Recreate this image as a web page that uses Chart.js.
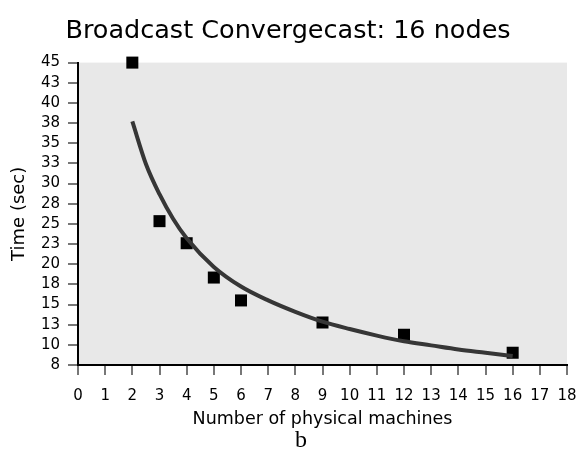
<!DOCTYPE html>
<html>
<head>
<meta charset="utf-8">
<script src="https://cdn.jsdelivr.net/npm/chart.js@4/dist/chart.umd.min.js"></script>
<style>
  html, body { margin: 0; padding: 0; background: #fff; }
  #wrap { width: 586px; height: 466px; }
</style>
</head>
<body>
<div id="wrap"><canvas id="chart"></canvas></div>
<script>
// measured run times
const machines = [2, 3, 4, 5, 6, 9, 12, 16];
const times = [45, 25.6, 22.9, 18.7, 15.9, 13.2, 11.7, 9.5];

// fitted trend line
const fitX = [2, 2.5, 3, 3.5, 4, 5, 6, 7, 8, 9, 10, 11, 12, 13, 14, 15, 16];
const fitY = [37.8, 32.6, 28.9, 25.9, 23.5, 20.0, 17.6, 15.9, 14.5, 13.3, 12.4, 11.6, 10.9, 10.4, 9.9, 9.5, 9.1];

const yTickLabels = ['8', '10', '13', '15', '18', '20', '23', '25', '28', '30', '33', '35', '38', '40', '43', '45'];
const yMin = 8, yMax = 45;

const FONT = 'DejaVu Sans';

const plotBg = {
  id: 'plotBg',
  beforeDraw(chart) {
    const { ctx, chartArea: a } = chart;
    ctx.save();
    ctx.fillStyle = '#e8e8e8';
    ctx.fillRect(a.left, a.top, a.right - a.left, a.bottom - a.top);
    ctx.restore();
  }
};

const panelLabel = {
  id: 'panelLabel',
  afterDraw(chart) {
    const { ctx } = chart;
    ctx.save();
    ctx.fillStyle = '#000';
    ctx.font = '24px "Liberation Serif"';
    ctx.textAlign = 'center';
    ctx.textBaseline = 'alphabetic';
    ctx.fillText('b', 301, 447);
    ctx.restore();
  }
};

new Chart(document.getElementById('chart'), {
  type: 'scatter',
  data: {
    datasets: [
      {
        type: 'line',
        data: fitX.map((x, i) => ({ x, y: fitY[i] })),
        borderColor: '#363636',
        borderWidth: 4,
        pointRadius: 0,
        cubicInterpolationMode: 'monotone',
        fill: false,
        order: 0
      },
      {
        data: machines.map((x, i) => ({ x, y: times[i] })),
        pointStyle: 'rect',
        pointRadius: 8.5,
        backgroundColor: '#000',
        borderColor: '#000',
        borderWidth: 0,
        clip: false,
        order: 1
      }
    ]
  },
  options: {
    responsive: true,
    maintainAspectRatio: false,
    animation: false,
    layout: { padding: { left: 0, right: 10, top: 0, bottom: 29 } },
    plugins: {
      legend: { display: false },
      tooltip: { enabled: false },
      title: {
        display: true,
        text: 'Broadcast Convergecast: 16 nodes',
        color: '#000',
        font: { family: FONT, size: 25.5, weight: 'normal' },
        padding: { top: 16, bottom: 16 }
      }
    },
    scales: {
      x: {
        type: 'linear',
        min: 0,
        max: 18,
        ticks: { stepSize: 1, autoSkip: false, color: '#000', font: { family: FONT, size: 15 }, padding: 12, maxRotation: 0, minRotation: 0 },
        grid: { drawOnChartArea: false, drawTicks: true, tickLength: 10, color: '#777', lineWidth: 2 },
        border: { display: true, color: '#000', width: 2 },
        title: { display: true, text: 'Number of physical machines', color: '#000', font: { family: FONT, size: 17.5 }, padding: { top: 0, bottom: 7 } },
        afterFit(scale) {
          scale.height = 72;
          scale.paddingRight = 19;
        }
      },
      y: {
        type: 'linear',
        min: yMin,
        max: yMax,
        afterBuildTicks(scale) {
          const n = yTickLabels.length;
          scale.ticks = yTickLabels.map((_, i) => ({ value: yMin + i * (yMax - yMin) / (n - 1) }));
        },
        ticks: {
          autoSkip: false,
          color: '#000',
          font: { family: FONT, size: 15 },
          padding: 8,
          callback: (v, i) => yTickLabels[i]
        },
        grid: { drawOnChartArea: false, drawTicks: true, tickLength: 10, color: '#777', lineWidth: 2 },
        border: { display: true, color: '#000', width: 2 },
        title: { display: true, text: 'Time (sec)', color: '#000', font: { family: FONT, size: 18 }, padding: { top: 9, bottom: 0 } },
        afterFit(scale) { scale.width = 78; }
      }
    }
  },
  plugins: [plotBg, panelLabel]
});
</script>
</body>
</html>
